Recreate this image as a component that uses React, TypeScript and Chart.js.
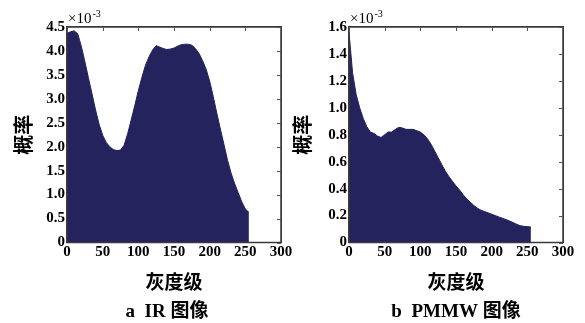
import React, { useEffect, useRef } from 'react';
import { Chart, registerables } from 'chart.js';

Chart.register(...registerables);

// ---- data (probability values are in units of 1e-3) ----
const grayLevels = [
  0, 5, 10, 15, 20, 25, 30, 35, 40, 45, 50, 55, 60, 65, 70, 75, 80, 85, 90, 95,
  100, 105, 110, 115, 120, 125, 130, 135, 140, 145, 150, 155, 160, 165, 170, 175,
  180, 185, 190, 195, 200, 205, 210, 215, 220, 225, 230, 235, 240, 245, 250, 255,
];

const irProb = [
  4.37, 4.40, 4.42, 4.36, 4.10, 3.78, 3.44, 3.11, 2.77, 2.47, 2.24, 2.09, 2.00, 1.94, 1.92, 1.93, 2.03, 2.27, 2.56, 2.86,
  3.17, 3.45, 3.70, 3.88, 4.02, 4.11, 4.08, 4.05, 4.03, 4.04, 4.06, 4.10, 4.13, 4.14, 4.14, 4.12,
  4.05, 3.95, 3.80, 3.62, 3.37, 3.05, 2.70, 2.37, 2.05, 1.72, 1.45, 1.23, 1.04, 0.85, 0.70, 0.63,
];

const pmmwProb = [
  1.56, 1.26, 1.10, 1.00, 0.92, 0.86, 0.82, 0.81, 0.79, 0.78, 0.80, 0.82, 0.82, 0.84, 0.855, 0.85, 0.84, 0.84, 0.84, 0.83,
  0.82, 0.80, 0.77, 0.73, 0.68, 0.63, 0.58, 0.53, 0.49, 0.455, 0.42, 0.39, 0.355, 0.325, 0.30, 0.275,
  0.255, 0.24, 0.23, 0.22, 0.21, 0.20, 0.19, 0.18, 0.17, 0.16, 0.148, 0.135, 0.125, 0.12, 0.118, 0.115,
];

const xTicks = [0, 50, 100, 150, 200, 250, 300];
const irYTicks = [0, 0.5, 1.0, 1.5, 2.0, 2.5, 3.0, 3.5, 4.0, 4.5];
const pmmwYTicks = [0, 0.2, 0.4, 0.6, 0.8, 1.0, 1.2, 1.4, 1.6];

const xTitle = '灰度级';
const yTitle = '概率';
const exponentBase = '×10';
const exponentPower = '-3';
const irCaption = 'a  IR 图像';
const pmmwCaption = 'b  PMMW 图像';

const FILL = '#25235e';
const SERIF = '"Liberation Serif", "Times New Roman", serif';
const CJK = '"Noto Sans CJK SC", sans-serif';
const H = 323;
const AREA_TOP = 27;
const AREA_BOTTOM = 242.5;

type PanelProps = {
  left: number;
  width: number;
  values: number[];
  yMax: number;
  yTicks: number[];
  caption: string;
  captionDx: number;
  areaLeft: number;
  areaRight: number;
  yTitlePad: number;
};

function Panel(p: PanelProps) {
  const ref = useRef<HTMLCanvasElement | null>(null);

  useEffect(() => {
    const canvas = ref.current;
    if (!canvas) return;

    const framePlugin = {
      id: 'axesBox',
      afterDraw(chart: any) {
        const ctx = chart.ctx;
        const a = chart.chartArea;
        const xs = chart.scales.x;
        const ys = chart.scales.y;
        ctx.save();
        ctx.setLineDash([]);
        ctx.globalAlpha = 1;
        ctx.globalCompositeOperation = 'source-over';
        // axes box
        ctx.strokeStyle = '#3a3a3a';
        ctx.lineWidth = 1.5;
        ctx.beginPath();
        ctx.rect(a.left, a.top, a.right - a.left, a.bottom - a.top);
        ctx.stroke();
        // inner tick marks (MATLAB style)
        ctx.strokeStyle = '#555';
        ctx.lineWidth = 1;
        ctx.beginPath();
        for (const v of xTicks) {
          const px = Math.round(xs.getPixelForValue(v)) + 0.5;
          ctx.moveTo(px, a.top);
          ctx.lineTo(px, a.top + 4);
        }
        for (const v of p.yTicks) {
          const py = Math.round(ys.getPixelForValue(v)) + 0.5;
          ctx.moveTo(a.right, py);
          ctx.lineTo(a.right - 4, py);
        }
        ctx.stroke();

        // exponent label
        ctx.fillStyle = '#000';
        ctx.textBaseline = 'alphabetic';
        ctx.textAlign = 'left';
        ctx.font = '15px ' + SERIF;
        const bx = a.left + 1;
        ctx.fillText(exponentBase, bx, a.top - 4);
        const w = ctx.measureText(exponentBase).width;
        ctx.font = '10px ' + SERIF;
        ctx.fillText(exponentPower, bx + w + 1, a.top - 10);

        // caption
        ctx.font = 'bold 19px "Liberation Serif", "Noto Sans CJK SC"';
        ctx.textAlign = 'center';
        ctx.textBaseline = 'middle';
        ctx.fillText(p.caption, (a.left + a.right) / 2 + p.captionDx, 312);
        ctx.restore();
      },
    };

    const chart = new Chart(canvas, {
      type: 'line',
      data: {
        datasets: [
          {
            data: grayLevels.map((g, i) => ({ x: g, y: p.values[i] })),
            fill: 'origin',
            backgroundColor: FILL,
            borderColor: FILL,
            borderWidth: 1,
            pointRadius: 0,
          },
        ],
      },
      options: {
        animation: false,
        responsive: false,
        events: [],
        layout: { padding: { left: 0, top: AREA_TOP, right: p.width - p.areaRight, bottom: 0 } },
        plugins: { legend: { display: false }, tooltip: { enabled: false } },
        scales: {
          x: {
            type: 'linear',
            min: 0,
            max: 300,
            grid: { display: false, drawTicks: false },
            ticks: {
              color: '#000',
              font: { family: SERIF, size: 15, weight: 'bold' },
              padding: 1,
              maxRotation: 0,
              autoSkip: false,
            },
            afterBuildTicks: (s: any) => {
              s.ticks = xTicks.map((v) => ({ value: v }));
            },
            afterFit: (s: any) => {
              s.height = H - AREA_BOTTOM;
            },
            title: {
              display: true,
              text: xTitle,
              color: '#000',
              font: { family: CJK, size: 19, weight: 'bold' },
              padding: { top: 0, bottom: 30 },
            },
          },
          y: {
            type: 'linear',
            min: 0,
            max: p.yMax,
            grid: { display: false, drawTicks: false },
            ticks: {
              color: '#000',
              font: { family: SERIF, size: 15, weight: 'bold' },
              padding: 2,
              autoSkip: false,
              callback: (v: any) => (Number(v) === 0 ? '0' : Number(v).toFixed(1)),
            },
            afterBuildTicks: (s: any) => {
              s.ticks = p.yTicks.map((v) => ({ value: v }));
            },
            afterFit: (s: any) => {
              s.width = p.areaLeft;
            },
            title: {
              display: true,
              text: yTitle,
              color: '#000',
              font: { family: CJK, size: 20, weight: 'bold', lineHeight: 1.2 },
              padding: { top: p.yTitlePad, bottom: 0 },
            },
          },
        },
      },
      plugins: [framePlugin],
    } as any);

    return () => chart.destroy();
  }, []);

  return (
    <>
      <canvas
        ref={ref}
        width={p.width}
        height={H}
        style={{ position: 'absolute', left: p.left, top: 0, width: p.width, height: H }}
      />
      <div
        style={{
          position: 'absolute',
          left: p.left + p.areaLeft - 1,
          top: AREA_TOP - 1,
          width: p.areaRight - p.areaLeft + 2,
          height: AREA_BOTTOM - AREA_TOP + 1.5,
          border: '1px solid #3a3a3a',
          boxSizing: 'border-box',
          pointerEvents: 'none',
        }}
      />
    </>
  );
}

export default function App() {
  return (
    <div style={{ position: 'absolute', left: 0, top: 0, width: 585, height: H, background: '#fff', overflow: 'hidden' }}>
      <Panel
        left={0}
        width={294}
        values={irProb}
        yMax={4.5}
        yTicks={irYTicks}
        caption={irCaption}
        captionDx={-7}
        areaLeft={67}
        areaRight={281}
        yTitlePad={11.5}
      />
      <Panel
        left={290}
        width={295}
        values={pmmwProb}
        yMax={1.6}
        yTicks={pmmwYTicks}
        caption={pmmwCaption}
        captionDx={0}
        areaLeft={59}
        areaRight={273}
        yTitlePad={0.5}
      />
    </div>
  );
}
